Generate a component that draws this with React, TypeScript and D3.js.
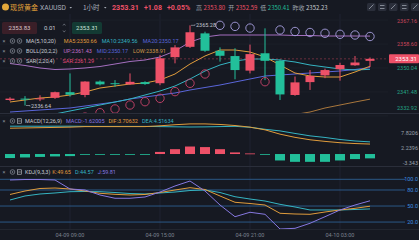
import React from "react";
import * as d3 from "d3";

const W = 419;
const H = 240;

// ---- data ----
const times = [
  "04-09 05:00", "04-09 06:00", "04-09 07:00", "04-09 08:00", "04-09 09:00",
  "04-09 10:00", "04-09 11:00", "04-09 12:00", "04-09 13:00", "04-09 14:00",
  "04-09 15:00", "04-09 16:00", "04-09 17:00", "04-09 18:00", "04-09 19:00",
  "04-09 20:00", "04-09 21:00", "04-09 22:00", "04-09 23:00", "04-10 00:00",
  "04-10 01:00", "04-10 02:00", "04-10 03:00", "04-10 04:00", "04-10 05:00",
];
const dateTicks = ["04-09 09:00", "04-09 15:00", "04-09 21:00", "04-10 03:00"];

const opens = [2338.6, 2339.1, 2339.0, 2339.4, 2341.4, 2340.4, 2345.2, 2344.6, 2344.2, 2345.0, 2344.6, 2353.9, 2357.6, 2362.4, 2356.2, 2354.3, 2349.1, 2355.3, 2352.6, 2340.4, 2345.0, 2347.4, 2349.6, 2351.0, 2352.59];
const closes = [2339.1, 2338.9, 2339.2, 2341.4, 2340.5, 2345.2, 2344.2, 2344.5, 2345.1, 2344.3, 2353.5, 2357.4, 2362.8, 2356.2, 2354.4, 2349.3, 2355.0, 2352.6, 2340.6, 2344.9, 2347.2, 2349.3, 2351.1, 2352.0, 2353.31];
const highs = [2339.6, 2340.0, 2340.3, 2341.6, 2348.1, 2345.3, 2345.6, 2345.7, 2348.1, 2345.3, 2354.7, 2358.2, 2365.28, 2363.0, 2357.4, 2357.1, 2358.4, 2364.2, 2353.1, 2347.0, 2349.3, 2349.8, 2351.9, 2354.3, 2353.8];
const lows = [2338.2, 2336.64, 2338.2, 2339.0, 2339.8, 2339.6, 2343.8, 2343.3, 2344.0, 2344.0, 2343.9, 2351.7, 2357.2, 2355.8, 2352.3, 2346.0, 2348.1, 2345.7, 2338.6, 2340.1, 2342.2, 2346.4, 2345.5, 2350.8, 2350.41];
const prevClose = 2352.23;

const ma5 = [2337.89, 2338.61, 2339.32, 2339.68, 2340.39, 2341.46, 2342.89, 2343.61, 2344.32, 2344.68, 2345.75, 2347.89, 2351.46, 2354.32, 2356.46, 2356.46, 2355.75, 2353.96, 2351.11, 2348.25, 2347.18, 2346.82, 2346.82, 2348.61, 2350.66];
const ma10 = [2330.75, 2331.82, 2332.89, 2333.61, 2334.68, 2335.75, 2336.82, 2337.89, 2338.96, 2340.39, 2341.82, 2343.61, 2346.11, 2348.96, 2351.11, 2352.54, 2353.25, 2353.25, 2352.89, 2352.18, 2351.11, 2350.39, 2349.68, 2349.32, 2349.56];
const ma20 = [2334.32, 2334.68, 2335.04, 2335.39, 2335.75, 2336.46, 2337.18, 2337.89, 2338.96, 2339.68, 2340.39, 2341.11, 2342.18, 2343.07, 2343.96, 2345.04, 2346.11, 2347.18, 2347.54, 2347.89, 2348.25, 2348.61, 2348.96, 2349.5, 2350.17];
const bollUp = [2351.64, 2350.93, 2350.04, 2349.5, 2349.68, 2350.04, 2350.57, 2351.46, 2352.36, 2352.89, 2353.96, 2356.11, 2359.32, 2361.11, 2361.82, 2361.82, 2361.82, 2361.82, 2361.82, 2361.64, 2361.64, 2361.46, 2361.46, 2361.46, 2361.43];
const bollLow: (number | null)[] = [null, null, null, null, null, null, null, null, null, null, null, null, null, null, null, null, null, null, 2332.54, 2333.43, 2334.32, 2335.75, 2336.82, 2337.89, 2338.91];
const sar = [2327.9, 2328.6, 2329.3, 2330.4, 2331.5, 2332.5, 2334.07, 2335.4, 2336.82, 2338.0, 2339.2, 2341.6, 2344.57, 2347.9, 2365.28, 2364.9, 2364.3, 2345.14, 2363.61, 2363.07, 2362.71, 2362.43, 2362.07, 2361.82, 2361.29];
const priceTicks = [2367.16, 2358.6, 2350.04, 2341.48, 2332.92];

const dif = [9.6, 9.7, 9.8, 9.9, 10.0, 10.2, 10.2, 10.2, 10.2, 10.2, 10.5, 10.9, 11.2, 11.2, 11.0, 10.6, 10.0, 9.0, 7.4, 6.2, 5.3, 4.7, 4.2, 3.9, 3.70632];
const dea = [10.35, 10.35, 10.34, 10.35, 10.36, 10.3, 10.28, 10.28, 10.28, 10.28, 10.2, 10.12, 10.05, 10.1, 10.2, 10.3, 9.95, 9.2, 8.6, 7.66, 6.76, 6.16, 5.4, 4.85, 4.51634];
const macdHist = [-1.5, -1.29, -1.08, -0.9, -0.78, -0.18, -0.15, -0.15, -0.15, -0.15, 0.78, 1.8, 2.79, 2.58, 1.8, 0.6, 0.21, -0.21, -2.4, -2.91, -2.91, -2.91, -2.4, -1.89, -1.62005];
const macdTicks = [7.8206, 2.2396, -3.343];

const kVals = [71.6, 78.1, 82.8, 83.7, 81.9, 78.1, 73.8, 71.9, 70.6, 71.6, 75.3, 80.0, 84.3, 80.9, 68.8, 57.0, 54.7, 51.9, 36.4, 35.1, 34.5, 38.8, 42.6, 45.7, 49.65];
const dVals = [61.3, 68.8, 72.5, 74.4, 76.8, 77.2, 76.8, 75.3, 73.4, 72.5, 74.4, 76.2, 79.0, 80.0, 75.3, 67.4, 63.1, 59.4, 53.2, 48.2, 42.6, 42.6, 42.6, 43.5, 44.57];
const jVals = [98.7, 99.6, 99.6, 98.7, 81.9, 80.0, 70.6, 64.5, 64.5, 66.9, 76.2, 87.5, 96.8, 78.1, 51.9, 30.0, 38.3, 34.5, 7.0, 8.3, 17.7, 30.0, 42.6, 51.9, 59.81];
const kdjLevels = [100, 80, 50, 20];

// ---- styles ----
const BG = "#161922";
const RED = "#ee5168";
const GREEN = "#22bf9a";
const FONT = "Roboto, 'Noto Sans', 'Noto Sans CJK SC', sans-serif";
const CJK = "'Noto Sans CJK SC', 'Noto Sans', sans-serif";
const C_MA5 = "#e09c3c";
const C_MA10 = "#35b4c2";
const C_MA20 = "#5a66da";
const C_UP = "#a46fbf";
const C_LOW = "#a8763c";
const C_K = "#e09c3c";
const C_D = "#35b4c2";
const C_J = "#8678e0";

const last = closes.length - 1;
const current = closes[last];

function Icons({ y, kind }: { y: number; kind: "main" | "sub" }) {
  return (
    <g>
      <text x={2.5} y={y + 2} fontSize={5.5} fill="#8d929e" fontFamily={FONT}>×</text>
      <circle cx={12.5} cy={y} r={2.3} fill="none" stroke="#8d929e" strokeWidth={0.7} />
      <circle cx={12.5} cy={y} r={0.8} fill="#8d929e" />
      {kind === "main" ? (
        <g>
          <circle cx={19.5} cy={y} r={2.3} fill="none" stroke="#8d929e" strokeWidth={0.7} />
          <circle cx={19.5} cy={y} r={0.8} fill="#8d929e" />
        </g>
      ) : (
        <g>
          <rect x={17.3} y={y - 2.2} width={4.4} height={4.4} fill="none" stroke="#c9ccd3" strokeWidth={0.6} />
          <line x1={18.2} x2={20.8} y1={y} y2={y} stroke="#c9ccd3" strokeWidth={0.6} />
        </g>
      )}
    </g>
  );
}

export default function App() {
  const x = d3.scalePoint<string>().domain(times).range([10, 370]);
  const xi = (i: number) => x(times[i]) as number;
  const yP = d3.scaleLinear().domain([2340, 2360]).range([96.1, 40.1]);
  const yM = d3.scaleLinear().domain([-3.3434, 7.8206]).range([163, 133]);
  const yK = d3.scaleLinear().domain([0, 100]).range([232.75, 179.3]);

  const priceLine = (vals: (number | null)[]) =>
    d3.line<number | null>()
      .defined((d) => d !== null)
      .x((_, i) => xi(i))
      .y((d) => yP(d as number))(vals) || "";
  const macdLine = (vals: number[]) =>
    d3.line<number>().x((_, i) => xi(i)).y((d) => yM(d))(vals) || "";
  const kdjLine = (vals: number[]) =>
    d3.line<number>().x((_, i) => xi(i)).y((d) => yK(d))(vals) || "";

  const bw = 9;
  const yCur = yP(current);
  const hiIdx = highs.indexOf(d3.max(highs) as number);
  const loIdx = lows.indexOf(d3.min(lows) as number);

  return (
    <svg width={W} height={H} style={{ display: "block", position: "absolute", left: 0, top: 0, background: BG }}>
      <defs>
        <clipPath id="mainClip"><rect x={0} y={14} width={388} height={99} /></clipPath>
        <clipPath id="macdClip"><rect x={0} y={114} width={400} height={52} /></clipPath>
        <clipPath id="kdjClip"><rect x={0} y={167} width={400} height={62} /></clipPath>
      </defs>
      <rect x={0} y={0} width={W} height={H} fill={BG} />

      {/* vertical grid */}
      {dateTicks.map((t) => (
        <line key={t} x1={x(t)} x2={x(t)} y1={14} y2={229} stroke="#1f2330" strokeWidth={1} />
      ))}
      {/* horizontal grid main */}
      {priceTicks.map((p) => (
        <line key={p} x1={0} x2={388} y1={yP(p)} y2={yP(p)} stroke="#1c2029" strokeWidth={1} />
      ))}

      {/* panel separators */}
      <line x1={0} x2={W} y1={113.5} y2={113.5} stroke="#2a2e3a" strokeWidth={1} />
      <line x1={0} x2={W} y1={166.5} y2={166.5} stroke="#2a2e3a" strokeWidth={1} />
      <line x1={0} x2={W} y1={229.5} y2={229.5} stroke="#22262f" strokeWidth={1} />

      {/* ===== main panel ===== */}
      <g clipPath="url(#mainClip)">
        <path d={priceLine(bollUp)} fill="none" stroke={C_UP} strokeWidth={1} />
        <path d={priceLine(bollLow)} fill="none" stroke={C_LOW} strokeWidth={1} />
        <path d={priceLine(ma20)} fill="none" stroke={C_MA20} strokeWidth={1} />
        <path d={priceLine(ma10)} fill="none" stroke={C_MA10} strokeWidth={1} />
        <path d={priceLine(ma5)} fill="none" stroke={C_MA5} strokeWidth={1} />
        <line x1={0} x2={388} y1={yCur} y2={yCur} stroke={RED} strokeOpacity={0.55} strokeWidth={0.7} strokeDasharray="2,2" />
        {times.map((t, i) => {
          const up = closes[i] >= opens[i];
          const c = up ? RED : GREEN;
          const top = yP(Math.max(opens[i], closes[i]));
          const bot = yP(Math.min(opens[i], closes[i]));
          const cx = xi(i);
          return (
            <g key={t}>
              <line x1={cx} x2={cx} y1={yP(highs[i])} y2={yP(lows[i])} stroke={c} strokeWidth={1} />
              <rect x={cx - bw / 2} y={top} width={bw} height={Math.max(1, bot - top)} fill={c} />
            </g>
          );
        })}
        {sar.map((s, i) => (
          <circle key={i} cx={xi(i)} cy={yP(s)} r={4.2} fill="none"
            stroke={s > closes[i] ? "#a79fe0" : "#c8436a"} strokeWidth={0.9} />
        ))}
        {/* high / low markers */}
        <path d={`M${xi(hiIdx) + 1},${yP(highs[hiIdx])} h4 v-1`} fill="none" stroke="#b8bcc6" strokeWidth={0.6} />
        <text x={xi(hiIdx) + 6} y={yP(highs[hiIdx]) + 1.5} fontSize={5.5} fill="#c4c8d0" fontFamily={FONT}>{highs[hiIdx].toFixed(2)}</text>
        <path d={`M${xi(loIdx) + 1},${yP(lows[loIdx])} h4 v1`} fill="none" stroke="#b8bcc6" strokeWidth={0.6} />
        <text x={xi(loIdx) + 6} y={yP(lows[loIdx]) + 2.5} fontSize={5.5} fill="#c4c8d0" fontFamily={FONT}>{lows[loIdx].toFixed(2)}</text>
      </g>

      {/* price axis labels */}
      {priceTicks.map((p) => {
        const yy = Math.min(Math.max(yP(p), 21), 108);
        return (
          <text key={p} x={417} y={yy + 2} fontSize={5.5} textAnchor="end" fill={p > current ? "#c9465c" : "#24a586"} fontFamily={FONT}>
            {p.toFixed(2)}
          </text>
        );
      })}
      <rect x={389} y={yCur - 4.5} width={30} height={9} fill={RED} rx={1} />
      <text x={417} y={yCur + 2} fontSize={6} textAnchor="end" fill="#ffffff" fontFamily={FONT}>{current.toFixed(2)}</text>

      {/* main legends */}
      <Icons y={41} kind="main" />
      <text y={43} fontSize={5.5} fontFamily={FONT}>
        <tspan x={26} fill="#c9ccd3">MA(5,10,20)</tspan>
        <tspan dx={8} fill={C_MA5}>MA5:{ma5[last].toFixed(2)}</tspan>
        <tspan dx={5} fill={C_MA10}>MA10:{ma10[last].toFixed(2)}</tspan>
        <tspan dx={5} fill={C_MA20}>MA20:{ma20[last].toFixed(2)}</tspan>
      </text>
      <Icons y={51} kind="main" />
      <text y={53} fontSize={5.5} fontFamily={FONT}>
        <tspan x={26} fill="#c9ccd3">BOLL(20,2,2)</tspan>
        <tspan dx={6} fill="#c36fc9">UP:{bollUp[last].toFixed(2)}</tspan>
        <tspan dx={5} fill={C_MA20}>MID:{ma20[last].toFixed(2)}</tspan>
        <tspan dx={5} fill="#d39a4a">LOW:{(bollLow[last] as number).toFixed(2)}</tspan>
      </text>
      <Icons y={61} kind="main" />
      <text y={63} fontSize={5.5} fontFamily={FONT}>
        <tspan x={26} fill="#c9ccd3">SAR(2,20,4)</tspan>
        <tspan dx={8} fill="#e0497a">SAR:{sar[last].toFixed(2)}</tspan>
      </text>

      {/* ===== MACD panel ===== */}
      <g clipPath="url(#macdClip)">
        {macdHist.map((v, i) => {
          const y0 = yM(0);
          const y1 = yM(v);
          return (
            <rect key={i} x={xi(i) - 5} y={Math.min(y0, y1)} width={10}
              height={Math.max(0.8, Math.abs(y1 - y0))} fill={v >= 0 ? RED : GREEN} />
          );
        })}
        <path d={macdLine(dea)} fill="none" stroke={C_D} strokeWidth={1} />
        <path d={macdLine(dif)} fill="none" stroke={C_K} strokeWidth={1} />
      </g>
      {macdTicks.map((v) => (
        <text key={v} x={418} y={yM(v) + 2} fontSize={5.5} textAnchor="end" fill="#9aa0ab" fontFamily={FONT}>{String(v)}</text>
      ))}
      <Icons y={121} kind="sub" />
      <text y={123} fontSize={5.5} fontFamily={FONT}>
        <tspan x={25} fill="#c9ccd3">MACD(12,26,9)</tspan>
        <tspan dx={4} fill={C_J}>MACD:{macdHist[last].toFixed(5)}</tspan>
        <tspan dx={4} fill={C_K}>DIF:{dif[last].toFixed(5)}</tspan>
        <tspan dx={4} fill={C_D}>DEA:{dea[last].toFixed(5)}</tspan>
      </text>

      {/* ===== KDJ panel ===== */}
      {kdjLevels.map((lv) => (
        <g key={lv}>
          <line x1={0} x2={405} y1={yK(lv)} y2={yK(lv)} stroke="#2b5886" strokeWidth={1} />
          <text x={418} y={yK(lv) + 2} fontSize={5.5} textAnchor="end" fill="#3d8ee0" fontFamily={FONT}>{lv.toFixed(1)}</text>
        </g>
      ))}
      <g clipPath="url(#kdjClip)">
        <path d={kdjLine(dVals)} fill="none" stroke={C_D} strokeWidth={1} />
        <path d={kdjLine(kVals)} fill="none" stroke={C_K} strokeWidth={1} />
        <path d={kdjLine(jVals)} fill="none" stroke={C_J} strokeWidth={1} />
      </g>
      <Icons y={172} kind="sub" />
      <text y={174} fontSize={5.5} fontFamily={FONT}>
        <tspan x={25} fill="#c9ccd3">KDJ(9,3,3)</tspan>
        <tspan dx={2} fill={C_K}>K:{kVals[last].toFixed(2)}</tspan>
        <tspan dx={4} fill={C_D}>D:{dVals[last].toFixed(2)}</tspan>
        <tspan dx={4} fill={C_J}>J:{jVals[last].toFixed(2)}</tspan>
      </text>

      {/* date axis */}
      {dateTicks.map((t) => (
        <text key={t} x={x(t)} y={237} fontSize={5.5} fill="#7d8290" textAnchor="middle" fontFamily={FONT}>{t}</text>
      ))}

      {/* ===== header ===== */}
      <circle cx={5.5} cy={7} r={3.5} fill="#e3a73a" />
      <text x={10} y={9.5} fontSize={7} fill="#e8a53a" fontFamily={CJK}>现货黄金</text>
      <text x={40} y={9.5} fontSize={6.8} fill="#a9aeb9" fontFamily={FONT}>XAUUSD</text>
      <path d="M69.5,7 l2.5,0 l-1.25,1.6 z" fill="#a9aeb9" />
      <text x={83} y={9.5} fontSize={6.5} fill="#a9aeb9" fontFamily={CJK}>1小时</text>
      <path d="M104,7 l2.5,0 l-1.25,1.6 z" fill="#a9aeb9" />
      <text x={112} y={9.5} fontSize={7.2} fill={RED} fontWeight="bold" fontFamily={FONT}>{current.toFixed(2)}</text>
      <text x={144} y={9.5} fontSize={7} fill={RED} fontWeight="bold" fontFamily={FONT}>+{(current - prevClose).toFixed(2)}</text>
      <text x={167} y={9.5} fontSize={7} fill={RED} fontWeight="bold" fontFamily={FONT}>+{((current - prevClose) / prevClose * 100).toFixed(2)}%</text>
      <text y={9.5} fontSize={6} fontFamily={CJK}>
        <tspan x={196} fill="#9aa0ab">高</tspan>
        <tspan dx={1.5} fill={RED}>{highs[last].toFixed(2)}</tspan>
        <tspan dx={3} fill="#9aa0ab">开</tspan>
        <tspan dx={1.5} fill={RED}>{opens[last].toFixed(2)}</tspan>
        <tspan dx={3} fill="#9aa0ab">低</tspan>
        <tspan dx={1.5} fill={GREEN}>{lows[last].toFixed(2)}</tspan>
        <tspan dx={3} fill="#9aa0ab">昨收</tspan>
        <tspan dx={1.5} fill="#c9ccd3">{prevClose.toFixed(2)}</tspan>
      </text>
      {[367, 378, 389, 400, 411].map((bx, k) => (
        <g key={bx}>
          <rect x={bx} y={3} width={8.5} height={8} rx={1.5} fill="#2a2e3a" />
          <path d={k % 2 === 0 ? `M${bx + 2},${9} l4.5,-4.5` : `M${bx + 2},${8.5} h4.5 M${bx + 2},${5.5} h4.5`} stroke="#aab0bb" strokeWidth={0.7} />
        </g>
      ))}

      {/* order row */}
      <rect x={2} y={22} width={35} height={12} rx={1.5} fill="#3a1f28" />
      <text x={19.5} y={30} fontSize={6} fill="#d9c6cb" textAnchor="middle" fontFamily={FONT}>2353.83</text>
      <text x={44} y={30} fontSize={6} fill="#c9ccd3" fontFamily={FONT}>0.01</text>
      <path d="M63,25.5 l1.2,-1.6 l1.2,1.6" fill="none" stroke="#8d929e" strokeWidth={0.6} />
      <path d="M63,30.5 l1.2,1.6 l1.2,-1.6" fill="none" stroke="#8d929e" strokeWidth={0.6} />
      <rect x={72} y={22} width={30} height={12} rx={1.5} fill="#133a33" />
      <text x={87} y={30} fontSize={6} fill="#cfe3dc" textAnchor="middle" fontFamily={FONT}>2353.31</text>
    </svg>
  );
}
